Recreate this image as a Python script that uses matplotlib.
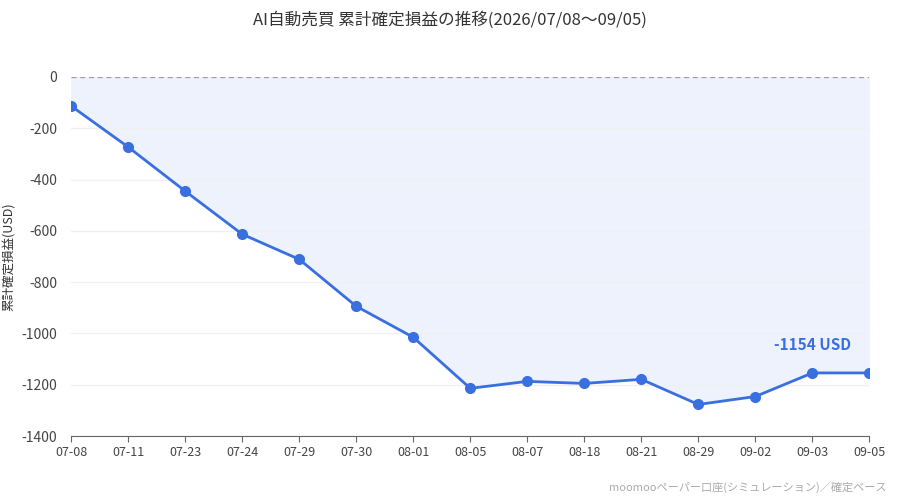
import matplotlib.pyplot as plt

plt.rcParams['font.family'] = ['Noto Sans CJK JP', 'DejaVu Sans']

dates = ['07-08', '07-11', '07-23', '07-24', '07-29', '07-30', '08-01', '08-05',
         '08-07', '08-18', '08-21', '08-29', '09-02', '09-03', '09-05']
pnl = [-113, -273, -445, -613, -711, -894, -1015, -1214,
       -1187, -1195, -1179, -1277, -1246, -1154, -1154]
yticks = [0, -200, -400, -600, -800, -1000, -1200, -1400]

fig = plt.figure(figsize=(9, 5), dpi=100)
ax = fig.add_axes([0.079, 0.128, 0.887, 0.718])
x = list(range(len(dates)))
line_c = '#3a6fe0'

ax.fill_between(x, pnl, 0, color='#edf2fd', zorder=1)
ax.plot(x, pnl, color=line_c, lw=2, marker='o', ms=7, zorder=3)
ax.axhline(0, color='#9a9ab8', lw=0.9, ls=(0, (4, 3)), zorder=2)
ax.annotate(f'{pnl[-2]} USD', (x[-2], pnl[-2]), xytext=(0, 14), textcoords='offset points',
            ha='center', va='bottom', color=line_c, fontsize=11, fontweight='bold')

ax.set_xlim(0, len(dates) - 1)
ax.set_ylim(-1400, 0)
ax.set_xticks(x)
ax.set_xticklabels(dates, fontsize=9, color='#444')
ax.set_yticks(yticks)
ax.set_yticklabels([str(v) for v in yticks], fontsize=10, color='#444')
ax.grid(axis='y', color='#f0f0f0', lw=1, zorder=0)
for s in ['top', 'right', 'left']:
    ax.spines[s].set_visible(False)
ax.spines['bottom'].set_color('#666')
ax.tick_params(axis='y', length=0, pad=10)
ax.tick_params(axis='x', length=4, color='#666')
ax.set_ylabel('累計確定損益(USD)', fontsize=9, color='#333')

fig.text(0.5, 0.96, 'AI自動売買 累計確定損益の推移(2026/07/08〜09/05)', ha='center', va='center',
         fontsize=12, color='#333')
fig.text(0.985, 0.025, 'moomooペーパー口座(シミュレーション)／確定ベース', ha='right', va='center',
         fontsize=8, color='#aaa')

fig.savefig('out.png', dpi=100)
